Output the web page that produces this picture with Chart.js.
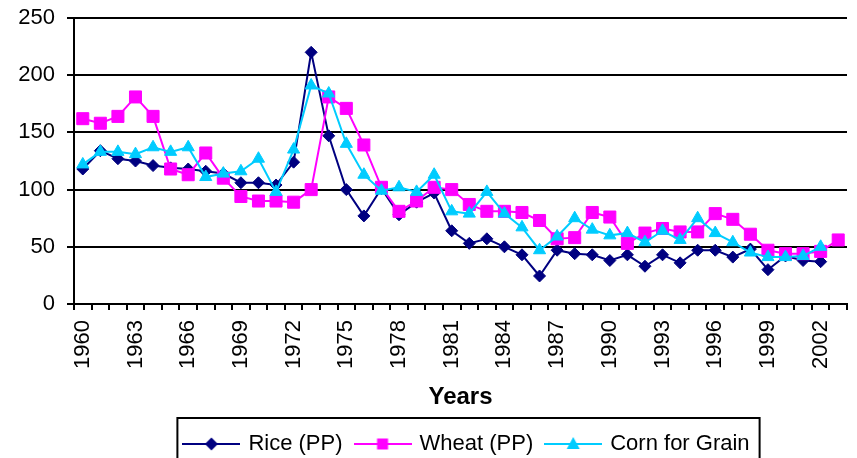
<!DOCTYPE html>
<html>
<head>
<meta charset="utf-8">
<script src="https://cdn.jsdelivr.net/npm/chart.js@4.4.0/dist/chart.umd.min.js"></script>
<style>
html,body{margin:0;padding:0;background:#fff;}
#wrap{width:857px;height:458px;}
</style>
</head>
<body>
<div id="wrap"><canvas id="c" width="857" height="458"></canvas></div>
<script>
const years = ['1960','1961','1962','1963','1964','1965','1966','1967','1968','1969',
  '1970','1971','1972','1973','1974','1975','1976','1977','1978','1979',
  '1980','1981','1982','1983','1984','1985','1986','1987','1988','1989',
  '1990','1991','1992','1993','1994','1995','1996','1997','1998','1999',
  '2000','2001','2002','2003'];
const tickLabels = ['1960','1963','1966','1969','1972','1975','1978','1981','1984',
  '1987','1990','1993','1996','1999','2002'];
const yTicks = [0, 50, 100, 150, 200, 250];

const rice = [118,134,127,125,121,119,118,116,114,106,106,104,124,220,147,100,77,101,78,89,
  97,64,53,57,50,43,24.5,47,44,43,38,43,33,43,36,47,47,41,48,30,42,38,37,null];
const wheat = [162,158,164,181,164,118,113,132,110,94,90,90,89,100,181,171,139,102,81,90,
  102,100,87,81,81,80,73,57,58,80,76,53,62,66,63,63,79,74,61,47,44,44,46,56];
const corn = [122,133,133,131,137,133,137,111,114,116,127,98,135,191,184,140,113,99,102,98,
  113,81,79,98,79,67,47,59,75,65,60,62,54,64,56,75,62,54,45,41,41,42,50,null];

const seriesNames = ['Rice (PP)', 'Wheat (PP)', 'Corn for Grain'];
const seriesColors = ['#000080', '#FF00FF', '#00CCFF'];
const seriesStyles = ['rectRot', 'rect', 'triangle'];
const xTitle = 'Years';

const FONT = "'Liberation Sans', Arial, sans-serif";

function legendSymbol(color, style) {
  const c = document.createElement('canvas');
  c.width = 58; c.height = 16;
  const g = c.getContext('2d');
  g.strokeStyle = color; g.lineWidth = 2;
  g.beginPath(); g.moveTo(0, 8); g.lineTo(58, 8); g.stroke();
  g.fillStyle = color;
  g.beginPath();
  const cx = 29, cy = 8;
  if (style === 'rectRot') { g.moveTo(cx, cy - 6.5); g.lineTo(cx + 6.5, cy); g.lineTo(cx, cy + 6.5); g.lineTo(cx - 6.5, cy); }
  else if (style === 'rect') { g.rect(cx - 5.5, cy - 5.5, 11, 11); }
  else { g.moveTo(cx, cy - 7); g.lineTo(cx + 6.5, cy + 5); g.lineTo(cx - 6.5, cy + 5); }
  g.closePath(); g.fill();
  return c;
}
const symbols = seriesColors.map((c, i) => legendSymbol(c, seriesStyles[i]));

const legendBoxPlugin = {
  id: 'legendBox',
  afterLayout(chart) {
    const lg = chart.legend;
    if (!lg) return;
    lg.left += 44; lg.right += 44;
    lg.top += 7; lg.bottom += 7;
  },
  afterDraw(chart) {
    const lg = chart.legend;
    if (!lg || !lg.lineWidths) return;
    const pad = lg.options.labels.padding;
    const lw = lg.lineWidths[0];
    const x0 = (lg.left + pad + lg.right - lw) / 2;
    const ctx = chart.ctx;
    ctx.save();
    ctx.strokeStyle = '#000';
    ctx.lineWidth = 2;
    ctx.strokeRect(x0 - 8, lg.top - 1, lw - pad + 18, 80);
    ctx.restore();
  }
};

const radii = [6, 8.5, 7];
const orders = [3, 2, 1];
const datasets = [rice, wheat, corn].map((d, i) => ({
  label: seriesNames[i],
  data: d,
  borderColor: seriesColors[i],
  backgroundColor: seriesColors[i],
  pointBackgroundColor: seriesColors[i],
  pointBorderColor: seriesColors[i],
  pointStyle: seriesStyles[i],
  pointRadius: radii[i],
  pointBorderWidth: 1,
  borderWidth: 2,
  tension: 0,
  order: orders[i]
}));

new Chart(document.getElementById('c'), {
  type: 'line',
  data: { labels: years, datasets },
  options: {
    responsive: false,
    animation: false,
    events: [],
    layout: { padding: { top: 18, right: 10, left: 0, bottom: 0 } },
    plugins: {
      tooltip: { enabled: false },
      legend: {
        position: 'bottom',
        labels: {
          usePointStyle: true,
          pointStyleWidth: 52,
          padding: 14,
          color: '#000',
          font: { family: FONT, size: 22 },
          generateLabels(chart) {
            const items = Chart.defaults.plugins.legend.labels.generateLabels(chart);
            items.sort((a, b) => a.datasetIndex - b.datasetIndex);
            items.forEach(it => { it.pointStyle = symbols[it.datasetIndex]; it.rotation = 0; });
            return items;
          }
        }
      }
    },
    scales: {
      x: {
        type: 'category',
        offset: true,
        grid: { offset: true, drawOnChartArea: false, drawTicks: true, tickLength: 6, color: '#000', lineWidth: 2 },
        border: { display: true, color: '#000', width: 2 },
        ticks: {
          autoSkip: false, maxRotation: 90, minRotation: 90, padding: 10, color: '#000',
          font: { family: FONT, size: 22 },
          callback(v, i) { const l = years[i]; return tickLabels.includes(l) ? l : ''; }
        },
        title: { display: true, text: xTitle, color: '#000', font: { family: FONT, size: 24, weight: 'bold' }, padding: { top: 0, bottom: 0 } },
        afterFit(s) { s.height = 108; s.paddingLeft = 0; s.paddingRight = 0; }
      },
      y: {
        min: yTicks[0], max: yTicks[yTicks.length - 1],
        afterBuildTicks(s) { s.ticks = yTicks.map(v => ({ value: v })); },
        ticks: { padding: 12, color: '#000', font: { family: FONT, size: 22 } },
        grid: { color: '#000', lineWidth: 2, tickLength: 7 },
        border: { display: true, color: '#000', width: 2 },
        afterFit(s) { s.width = 74; s.paddingTop = 0; s.paddingBottom = 0; }
      }
    }
  },
  plugins: [legendBoxPlugin]
});
</script>
</body>
</html>
